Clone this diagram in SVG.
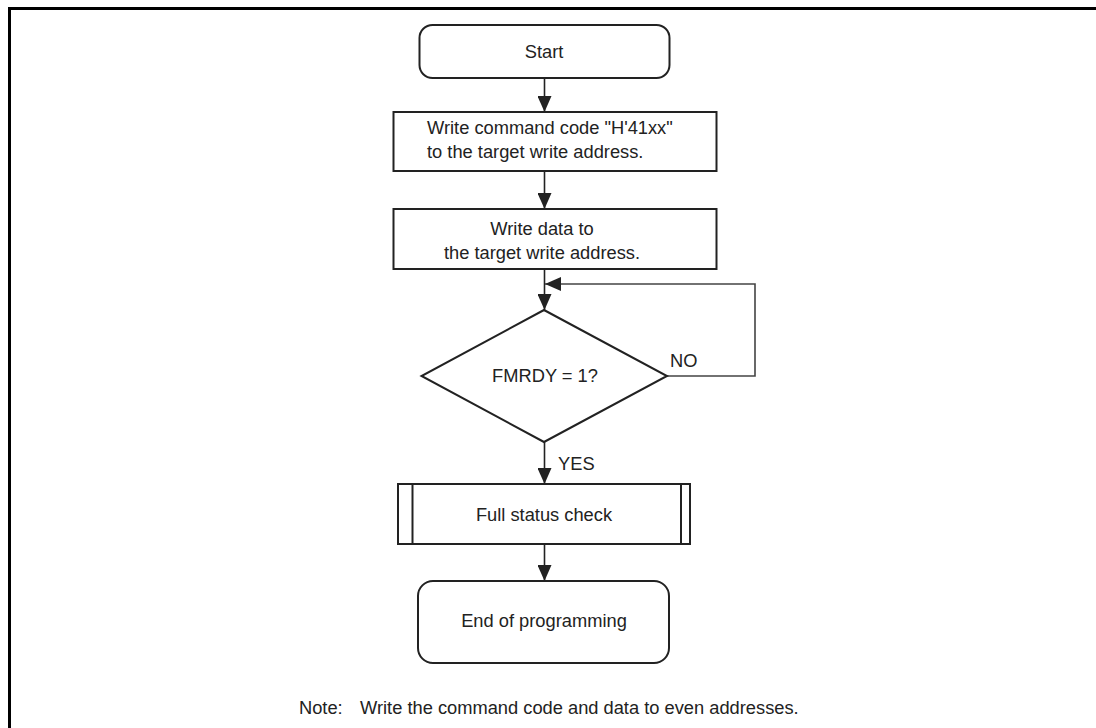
<svg xmlns="http://www.w3.org/2000/svg" width="1096" height="728" viewBox="0 0 1096 728">
<style>
.shape{fill:#fff;stroke:#222;stroke-width:2}
.conn{fill:none;stroke:#222;stroke-width:1.6}
.loop{fill:none;stroke:#444;stroke-width:1.6}
text{font-family:"Liberation Sans",Arial,sans-serif;font-size:18.3px;fill:#222}
.c{text-anchor:middle}
</style>
<defs>
<marker id="ah" viewBox="0 0 16 14" refX="16" refY="7" markerWidth="16" markerHeight="14" markerUnits="userSpaceOnUse" orient="auto">
<path d="M0,0 L16,7 L0,14 Z" fill="#222"/>
</marker>
</defs>
<rect x="0" y="0" width="1096" height="728" fill="#fff"/>
<path d="M9.5,740 L9.5,8.5 L1110,8.5" fill="none" stroke="#000" stroke-width="3"/>
<g id="connectors">
<line class="conn" x1="544.5" y1="78" x2="544.5" y2="112" marker-end="url(#ah)"/>
<line class="conn" x1="544.5" y1="171" x2="544.5" y2="209" marker-end="url(#ah)"/>
<line class="conn" x1="544.5" y1="269" x2="544.5" y2="310" marker-end="url(#ah)"/>
<polyline class="loop" points="667,376 755,376 755,284 545,284" marker-end="url(#ah)"/>
<line class="conn" x1="544.5" y1="442" x2="544.5" y2="484" marker-end="url(#ah)"/>
<line class="conn" x1="544.5" y1="544" x2="544.5" y2="581" marker-end="url(#ah)"/>
<text x="670" y="367">NO</text>
<text x="558" y="470">YES</text>
</g>
<g id="start">
<rect class="shape" x="419.5" y="25" width="250" height="53" rx="13"/>
<text class="c" x="544" y="58">Start</text>
</g>
<g id="write-cmd">
<rect class="shape" x="393.5" y="112" width="323" height="59"/>
<text x="427" y="134">Write command code "H'41xx"</text>
<text x="427" y="158">to the target write address.</text>
</g>
<g id="write-data">
<rect class="shape" x="393.5" y="209" width="323" height="60"/>
<text class="c" x="542" y="235">Write data to</text>
<text class="c" x="542" y="259">the target write address.</text>
</g>
<g id="fmrdy">
<polygon class="shape" points="544,310 667,376 544,442 421.5,376"/>
<text class="c" x="545" y="382">FMRDY = 1?</text>
</g>
<g id="full-status">
<rect class="shape" x="398" y="484" width="292" height="60"/>
<line class="shape" x1="412.5" y1="484" x2="412.5" y2="544"/>
<line class="shape" x1="681" y1="484" x2="681" y2="544"/>
<text class="c" x="544" y="521">Full status check</text>
</g>
<g id="end">
<rect class="shape" x="418" y="581" width="251" height="82" rx="15"/>
<text class="c" x="544" y="627">End of programming</text>
</g>
<g id="note">
<text x="299" y="714">Note:</text>
<text x="360" y="714">Write the command code and data to even addresses.</text>
</g>
</svg>
